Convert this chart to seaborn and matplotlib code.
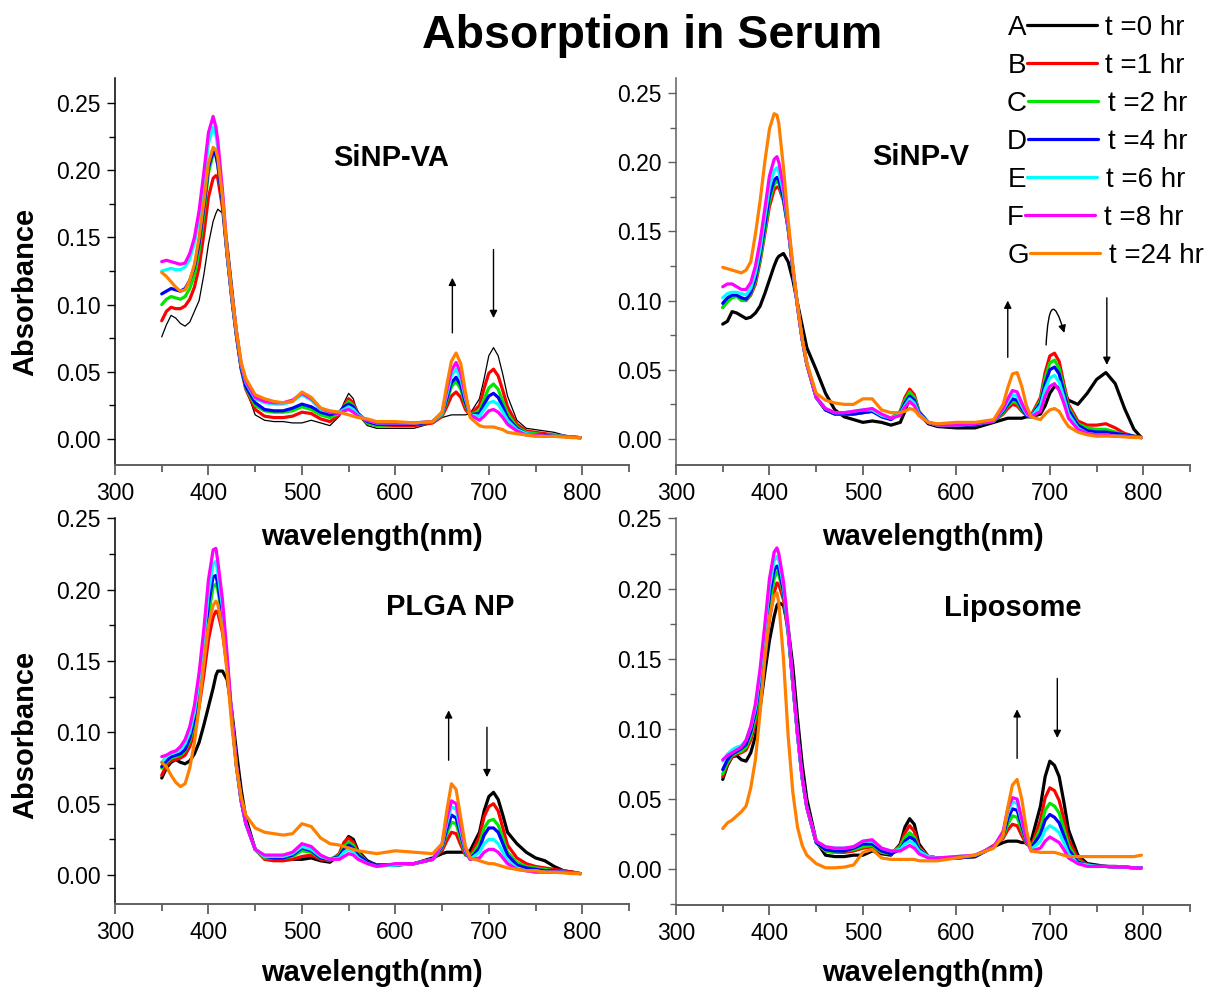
import numpy as np
import pandas as pd
import matplotlib
matplotlib.use("Agg")
import matplotlib.pyplot as plt
from matplotlib.lines import Line2D
from matplotlib.ticker import MultipleLocator, FormatStrFormatter
import seaborn as sns

# ---------------------------------------------------------------- data
wavelength = [
    350, 355, 360, 365, 370, 375, 380, 385, 390, 395,
    400, 405, 408, 410, 415, 420, 425, 430, 435, 440,
    450, 460, 470, 480, 490, 500, 510, 520, 530, 540,
    545, 550, 555, 560, 570, 580, 600, 620, 640, 650,
    655, 660, 665, 670, 675, 680, 690, 695, 700, 705,
    710, 715, 720, 730, 740, 750, 760, 770, 780, 790,
    798,
]

time_labels = ["t =0 hr", "t =1 hr", "t =2 hr", "t =4 hr", "t =6 hr", "t =8 hr", "t =24 hr"]
series_letters = ["A", "B", "C", "D", "E", "F", "G"]
series_colors = ["#000000", "#ff0000", "#00e600", "#0000ff", "#00ffff", "#ff00ff", "#ff8000"]

# SiNP-VA
va_0h = [.076, .085, .092, .090, .086, .084, .087, .095, .103, .122,
         .145, .162, .168, .171, .168, .150, .118, .085, .058, .038,
         .018, .014, .013, .013, .012, .012, .014, .012, .010, .017,
         .027, .034, .030, .018, .010, .008, .008, .008, .012, .016,
         .017, .018, .018, .018, .018, .019, .030, .045, .062, .068,
         .062, .048, .032, .014, .008, .007, .006, .005, .003, .002,
         .001]
va_1h = [.088, .095, .098, .097, .097, .099, .104, .113, .128, .152,
         .180, .194, .196, .194, .172, .137, .104, .076, .052, .037,
         .022, .017, .016, .016, .017, .020, .019, .015, .013, .018,
         .025, .030, .027, .019, .012, .010, .010, .010, .012, .017,
         .024, .032, .035, .031, .022, .018, .025, .038, .049, .052,
         .047, .036, .024, .011, .006, .005, .004, .003, .002, .0015,
         .001]
va_2h = [.100, .104, .106, .105, .104, .106, .112, .122, .140, .167,
         .198, .212, .211, .204, .176, .137, .105, .077, .053, .038,
         .025, .021, .020, .020, .021, .024, .022, .018, .016, .019,
         .024, .028, .025, .019, .012, .010, .011, .011, .013, .018,
         .028, .039, .043, .037, .025, .018, .021, .030, .038, .041,
         .037, .028, .019, .009, .005, .004, .003, .003, .002, .0015,
         .001]
va_4h = [.108, .110, .112, .111, .110, .112, .118, .128, .146, .172,
         .202, .214, .211, .204, .176, .137, .105, .077, .053, .039,
         .027, .022, .021, .021, .023, .026, .024, .020, .018, .020,
         .024, .026, .024, .019, .013, .011, .011, .011, .013, .019,
         .030, .042, .046, .040, .027, .018, .019, .026, .032, .034,
         .031, .024, .016, .008, .004, .003, .003, .002, .002, .0015,
         .001]
va_6h = [.125, .126, .127, .126, .126, .128, .134, .146, .164, .190,
         .220, .232, .226, .217, .182, .139, .107, .079, .055, .042,
         .030, .027, .026, .026, .028, .033, .029, .022, .020, .020,
         .022, .024, .022, .018, .014, .012, .012, .012, .013, .019,
         .033, .047, .052, .045, .030, .018, .017, .022, .027, .028,
         .026, .020, .014, .007, .004, .003, .002, .002, .002, .0015,
         .001]
va_8h = [.132, .133, .132, .131, .130, .131, .138, .150, .170, .198,
         .228, .240, .232, .222, .185, .140, .108, .080, .056, .043,
         .031, .028, .027, .027, .029, .034, .030, .023, .020, .019,
         .021, .022, .020, .017, .014, .012, .012, .012, .013, .020,
         .036, .051, .057, .049, .032, .018, .014, .017, .021, .022,
         .020, .016, .011, .006, .003, .003, .002, .002, .002, .0015,
         .001]
va_24h = [.124, .121, .117, .113, .110, .111, .118, .130, .150, .176,
          .205, .217, .215, .209, .180, .140, .108, .080, .057, .045,
          .033, .030, .028, .027, .028, .035, .031, .023, .021, .020,
          .019, .018, .017, .016, .015, .013, .013, .012, .013, .020,
          .040, .058, .064, .056, .035, .016, .010, .009, .009, .009,
          .008, .007, .005, .004, .003, .002, .002, .002, .0015, .001,
          .001]

# SiNP-V
v_0h = [.083, .085, .092, .091, .089, .087, .088, .091, .096, .105,
        .115, .125, .130, .132, .134, .128, .115, .098, .082, .066,
        .050, .033, .021, .016, .014, .012, .013, .012, .010, .012,
        .020, .030, .028, .018, .011, .009, .008, .008, .012, .014,
        .015, .015, .015, .015, .016, .016, .018, .024, .033, .038,
        .037, .033, .028, .025, .033, .043, .048, .040, .022, .007,
        .001]
v_1h = [.095, .100, .103, .104, .101, .100, .104, .112, .128, .148,
        .168, .180, .182, .182, .172, .152, .123, .096, .072, .054,
        .030, .021, .018, .018, .018, .019, .020, .017, .015, .020,
        .030, .036, .032, .020, .012, .010, .010, .010, .013, .018,
        .022, .025, .024, .020, .017, .017, .030, .048, .060, .062,
        .056, .040, .025, .013, .010, .010, .011, .008, .004, .002,
        .001]
v_2h = [.095, .099, .102, .103, .100, .100, .105, .114, .130, .150,
        .172, .184, .186, .185, .173, .152, .123, .096, .072, .054,
        .030, .021, .018, .018, .018, .019, .020, .017, .015, .020,
        .028, .034, .030, .020, .012, .010, .010, .010, .013, .019,
        .024, .027, .026, .021, .017, .016, .028, .044, .055, .057,
        .051, .037, .023, .011, .008, .007, .007, .005, .003, .002,
        .001]
v_4h = [.098, .102, .104, .104, .102, .101, .106, .116, .133, .154,
        .176, .187, .189, .187, .174, .152, .123, .096, .072, .054,
        .030, .021, .018, .018, .018, .019, .020, .016, .014, .019,
        .026, .031, .028, .019, .012, .010, .010, .010, .013, .020,
        .025, .029, .028, .022, .017, .016, .026, .040, .050, .052,
        .047, .034, .021, .010, .006, .005, .005, .004, .003, .002,
        .001]
v_6h = [.102, .105, .106, .106, .105, .104, .109, .120, .137, .160,
        .182, .194, .196, .193, .178, .153, .123, .096, .072, .054,
        .030, .022, .019, .019, .020, .021, .021, .017, .015, .018,
        .024, .029, .026, .018, .012, .010, .010, .011, .013, .021,
        .027, .032, .031, .024, .018, .016, .024, .036, .044, .046,
        .041, .030, .018, .008, .004, .003, .003, .002, .002, .0015,
        .001]
v_8h = [.110, .112, .112, .110, .108, .108, .113, .125, .143, .166,
        .190, .202, .204, .200, .182, .154, .124, .096, .072, .054,
        .030, .022, .019, .019, .020, .021, .022, .018, .015, .017,
        .023, .027, .024, .017, .012, .010, .010, .011, .013, .022,
        .029, .035, .034, .026, .019, .016, .020, .031, .038, .040,
        .035, .026, .015, .007, .004, .003, .003, .002, .002, .0015,
        .001]
v_24h = [.124, .123, .122, .121, .120, .122, .128, .148, .172, .200,
         .224, .235, .234, .228, .196, .158, .126, .097, .073, .055,
         .033, .028, .026, .025, .025, .029, .029, .021, .019, .019,
         .020, .022, .021, .017, .012, .011, .012, .012, .014, .025,
         .037, .047, .048, .038, .024, .016, .014, .018, .021, .022,
         .020, .014, .009, .005, .003, .002, .002, .002, .0015, .001,
         .001]

# PLGA NP
plga_0h = [.068, .075, .079, .081, .079, .078, .080, .085, .093, .105,
           .118, .131, .140, .143, .143, .137, .115, .086, .060, .040,
           .018, .012, .011, .011, .011, .011, .012, .010, .009, .014,
           .022, .027, .025, .017, .010, .007, .007, .008, .012, .015,
           .016, .016, .016, .016, .016, .017, .030, .045, .055, .058,
           .053, .042, .030, .022, .016, .012, .010, .006, .003, .002,
           .001]
plga_1h = [.070, .077, .080, .081, .082, .084, .090, .100, .118, .140,
           .165, .181, .185, .184, .170, .145, .110, .077, .052, .036,
           .018, .011, .010, .010, .011, .013, .014, .011, .010, .015,
           .023, .026, .023, .016, .009, .007, .007, .008, .011, .017,
           .024, .030, .029, .021, .014, .013, .027, .041, .048, .050,
           .045, .033, .021, .012, .008, .006, .005, .004, .003, .002,
           .001]
plga_2h = [.075, .079, .082, .083, .084, .087, .094, .106, .126, .152,
           .182, .202, .204, .200, .180, .148, .110, .076, .052, .036,
           .018, .012, .012, .012, .013, .017, .016, .012, .011, .014,
           .020, .023, .021, .015, .009, .007, .007, .008, .011, .019,
           .029, .037, .036, .025, .015, .012, .022, .033, .038, .039,
           .035, .026, .016, .009, .006, .005, .004, .003, .002, .0015,
           .001]
plga_4h = [.076, .080, .083, .084, .085, .088, .096, .109, .130, .158,
           .190, .209, .210, .204, .182, .149, .110, .076, .052, .036,
           .018, .013, .012, .012, .014, .019, .017, .012, .011, .013,
           .018, .021, .019, .014, .009, .007, .007, .008, .011, .020,
           .032, .042, .040, .028, .016, .011, .019, .028, .033, .033,
           .030, .022, .014, .007, .005, .004, .003, .003, .002, .0015,
           .001]
plga_6h = [.079, .083, .085, .086, .088, .092, .100, .114, .136, .165,
           .198, .218, .220, .212, .188, .151, .111, .076, .052, .036,
           .018, .013, .013, .013, .015, .020, .018, .013, .011, .012,
           .016, .018, .016, .012, .008, .006, .007, .008, .011, .021,
           .036, .048, .046, .031, .017, .011, .016, .022, .025, .025,
           .022, .016, .010, .005, .003, .003, .002, .002, .002, .0015,
           .001]
plga_8h = [.083, .084, .086, .087, .090, .095, .104, .119, .142, .172,
           .207, .228, .229, .220, .193, .154, .112, .077, .052, .036,
           .018, .014, .014, .014, .016, .022, .020, .014, .011, .011,
           .013, .015, .014, .011, .008, .006, .008, .008, .011, .022,
           .039, .052, .050, .034, .018, .011, .012, .016, .018, .018,
           .016, .012, .008, .004, .003, .002, .002, .002, .002, .0015,
           .001]
plga_24h = [.079, .076, .070, .065, .062, .064, .075, .093, .118, .148,
            .175, .189, .192, .190, .172, .142, .105, .075, .055, .042,
            .033, .030, .029, .028, .029, .036, .034, .026, .022, .021,
            .020, .019, .018, .017, .016, .015, .017, .016, .015, .022,
            .045, .064, .060, .040, .020, .012, .010, .009, .008, .008,
            .007, .006, .005, .004, .003, .003, .002, .002, .0015, .001,
            .001]

# Liposome
lipo_0h = [.064, .074, .080, .081, .078, .077, .083, .095, .115, .140,
           .163, .180, .188, .190, .188, .172, .145, .108, .075, .050,
           .020, .010, .009, .009, .010, .010, .013, .011, .010, .018,
           .030, .036, .032, .018, .009, .008, .008, .009, .016, .019,
           .020, .020, .020, .019, .019, .020, .045, .066, .077, .074,
           .066, .048, .028, .010, .004, .003, .002, .002, .0015, .001,
           .001]
lipo_1h = [.066, .075, .080, .082, .083, .085, .092, .104, .124, .150,
           .178, .197, .204, .203, .192, .168, .132, .096, .065, .044,
           .019, .013, .012, .012, .013, .015, .016, .012, .011, .017,
           .026, .031, .027, .016, .009, .008, .008, .009, .017, .022,
           .028, .032, .031, .024, .018, .016, .035, .051, .058, .056,
           .049, .036, .021, .008, .003, .002, .002, .0015, .0015, .001,
           .001]
lipo_2h = [.068, .076, .081, .083, .084, .087, .095, .108, .130, .158,
           .188, .207, .212, .210, .196, .169, .132, .096, .065, .044,
           .019, .013, .012, .013, .014, .016, .017, .012, .011, .016,
           .023, .026, .023, .015, .009, .008, .008, .009, .016, .023,
           .032, .038, .037, .028, .019, .015, .029, .042, .047, .045,
           .040, .029, .017, .006, .003, .002, .002, .0015, .0015, .001,
           .001]
lipo_4h = [.071, .078, .082, .084, .086, .089, .098, .112, .135, .164,
           .195, .213, .216, .214, .198, .170, .132, .096, .065, .044,
           .019, .014, .013, .013, .015, .018, .018, .013, .011, .014,
           .020, .023, .021, .014, .009, .008, .008, .009, .016, .024,
           .036, .043, .042, .031, .020, .015, .025, .035, .039, .037,
           .033, .024, .014, .005, .003, .002, .002, .0015, .0015, .001,
           .001]
lipo_6h = [.077, .082, .085, .087, .088, .092, .101, .115, .139, .169,
           .201, .220, .223, .220, .202, .171, .133, .096, .065, .044,
           .020, .016, .015, .015, .016, .020, .020, .015, .013, .014,
           .018, .020, .018, .013, .009, .008, .009, .010, .016, .026,
           .040, .048, .047, .034, .021, .014, .020, .028, .031, .029,
           .026, .019, .011, .004, .003, .002, .002, .0015, .0015, .001,
           .001]
lipo_8h = [.078, .081, .083, .085, .087, .092, .102, .118, .143, .174,
           .207, .226, .229, .225, .205, .173, .134, .097, .066, .044,
           .020, .016, .015, .015, .016, .020, .021, .015, .013, .013,
           .015, .017, .015, .011, .008, .008, .009, .010, .016, .027,
           .043, .051, .050, .036, .021, .013, .015, .020, .023, .021,
           .019, .014, .008, .004, .002, .002, .002, .0015, .0015, .001,
           .001]
lipo_24h = [.029, .033, .035, .038, .041, .045, .058, .078, .112, .150,
            .180, .195, .197, .190, .150, .095, .055, .030, .017, .010,
            .004, .001, .001, .0015, .003, .012, .014, .008, .007, .007,
            .007, .007, .007, .006, .006, .006, .008, .010, .015, .024,
            .044, .060, .064, .050, .028, .013, .012, .012, .012, .012,
            .011, .010, .009, .009, .009, .009, .009, .009, .009, .009,
            .010]


def spectra_frame(series):
    for s in series:
        assert len(s) == len(wavelength)
    return pd.DataFrame({
        "wavelength": np.tile(wavelength, len(series)),
        "absorbance": np.concatenate([np.asarray(s, float) for s in series]),
        "time": np.repeat(time_labels, len(wavelength)),
    })


# ---------------------------------------------------------------- style
sns.set_theme(style="ticks")
plt.rcParams["font.family"] = ["Liberation Sans", "DejaVu Sans"]
plt.rcParams.update({
    "text.color": "black",
    "axes.labelcolor": "black",
    "xtick.color": "black",
    "ytick.color": "black",
})

W, H = 1221, 989
fig = plt.figure(figsize=(W / 100, H / 100), dpi=100)


def rect(left, top, right, bottom):
    return [left / W, 1 - bottom / H, (right - left) / W, (bottom - top) / H]


def px(x, y):
    return x / W, 1 - y / H


panels = [
    dict(title="SiNP-VA", series=[va_0h, va_1h, va_2h, va_4h, va_6h, va_8h, va_24h],
         box=rect(115, 78, 629, 465), ylim=(-0.0193, 0.2686), title_xy=(0.537, 0.793),
         left=True, ylab_y=0.447, xlab_y=-0.186, thin_first=True,
         arrows=[(661, 0.079, 0.120), (705, 0.141, 0.090)]),
    dict(title="SiNP-V", series=[v_0h, v_1h, v_2h, v_4h, v_6h, v_8h, v_24h],
         box=rect(676, 78, 1190, 465), ylim=(-0.0188, 0.2608), title_xy=(0.477, 0.796),
         left=False, ylab_y=None, xlab_y=-0.186, thin_first=False,
         arrows=[(655, 0.059, 0.100), (761, 0.102, 0.0535)]),
    dict(title="PLGA NP", series=[plga_0h, plga_1h, plga_2h, plga_4h, plga_6h, plga_8h, plga_24h],
         box=rect(115, 518, 629, 904), ylim=(-0.0203, 0.2503), title_xy=(0.652, 0.769),
         left=True, ylab_y=0.438, xlab_y=-0.179, thin_first=False,
         arrows=[(657, 0.0805, 0.1155), (698, 0.1036, 0.0686)]),
    dict(title="Liposome", series=[lipo_0h, lipo_1h, lipo_2h, lipo_4h, lipo_6h, lipo_8h, lipo_24h],
         box=rect(676, 518, 1190, 905), ylim=(-0.0255, 0.2503), title_xy=(0.656, 0.767),
         left=False, ylab_y=None, xlab_y=-0.176, thin_first=False,
         arrows=[(665, 0.079, 0.114), (708, 0.136, 0.0935)]),
]

axis_grey = "#5f5f5f"
arrow_props = dict(arrowstyle="-|>", color="black", lw=1.0, mutation_scale=11,
                   shrinkA=0, shrinkB=0)

axes = []
for p in panels:
    ax = fig.add_axes(p["box"])
    ax.set_facecolor("none")
    axes.append(ax)
    df = spectra_frame(p["series"])
    sns.lineplot(data=df, x="wavelength", y="absorbance", hue="time",
                 hue_order=time_labels, palette=series_colors, linewidth=2.3,
                 estimator=None, sort=False, legend=False, ax=ax)
    for line in ax.lines:
        line.set_solid_joinstyle("round")
    if p["thin_first"]:
        ax.lines[0].set_linewidth(0.9)

    ax.set_xlim(300, 850)
    ax.set_ylim(*p["ylim"])
    ax.xaxis.set_major_locator(MultipleLocator(100))
    ax.xaxis.set_minor_locator(MultipleLocator(50))
    ax.yaxis.set_major_locator(MultipleLocator(0.05))
    ax.yaxis.set_minor_locator(MultipleLocator(0.025))
    ax.yaxis.set_major_formatter(FormatStrFormatter("%.2f"))

    sns.despine(ax=ax)
    left_col = "black" if p["left"] else axis_grey
    ax.spines["left"].set_color(left_col)
    ax.spines["left"].set_linewidth(1.1)
    ax.spines["bottom"].set_color(axis_grey)
    ax.spines["bottom"].set_linewidth(1.4)
    ax.tick_params(axis="y", which="major", direction="out", length=6, width=1.0,
                   color=left_col, labelsize=16.5, pad=4, labelcolor="black")
    ax.tick_params(axis="y", which="minor", direction="out", length=4, width=1.0,
                   color=left_col)
    ax.tick_params(axis="x", which="major", direction="out", length=7, width=1.3,
                   color=axis_grey, labelsize=16.5, pad=5, labelcolor="black")
    ax.tick_params(axis="x", which="minor", direction="out", length=5, width=1.3,
                   color=axis_grey)

    ax.set_xlabel("wavelength(nm)", fontsize=21, fontweight="bold", va="center",
                  color="black")
    ax.xaxis.set_label_coords(0.5, p["xlab_y"])
    if p["left"]:
        ax.set_ylabel("Absorbance", fontsize=21, fontweight="bold", va="center",
                      color="black")
        ax.yaxis.set_label_coords(-0.175, p["ylab_y"])
    else:
        ax.set_ylabel("")

    ax.text(*p["title_xy"], p["title"], transform=ax.transAxes, ha="center",
            va="center", fontsize=21, fontweight="bold", color="black")

    for x, y_tail, y_head in p["arrows"]:
        ax.annotate("", xy=(x, y_head), xytext=(x, y_tail), arrowprops=arrow_props)

# turning arrow over the shifting band of SiNP-V
axes[1].annotate("", xy=(715.5, 0.0766), xytext=(696, 0.0679),
                 arrowprops=dict(arrowstyle="-|>", color="black", lw=1.0, mutation_scale=11,
                                 shrinkA=0, shrinkB=0,
                                 connectionstyle="angle3,angleA=87,angleB=106"))

# figure title
fig.text(*px(652, 36), "Absorption in Serum", ha="center", va="center",
         fontsize=33.5, fontweight="bold", color="black")

# key in the upper right corner
row_y = [25, 63, 101, 139, 177, 215, 253]
line_x = [(1027, 1097), (1027, 1097), (1028, 1098), (1028, 1098),
          (1027, 1097), (1025, 1095), (1030, 1100)]
text_x = [1105, 1105, 1108, 1108, 1106, 1104, 1109]
for letter, label, color, y, (x0, x1), tx in zip(series_letters, time_labels, series_colors,
                                                  row_y, line_x, text_x):
    fig.add_artist(Line2D([x0 / W, x1 / W], [1 - y / H, 1 - y / H],
                          transform=fig.transFigure, color=color, linewidth=2.3))
    fig.text(*px(x0 - 1, y + 10), letter, ha="right", va="baseline", fontsize=20,
             color="black")
    fig.text(*px(tx, y + 10), label, ha="left", va="baseline", fontsize=20,
             color="black")

fig.savefig("out.png", dpi=100)
